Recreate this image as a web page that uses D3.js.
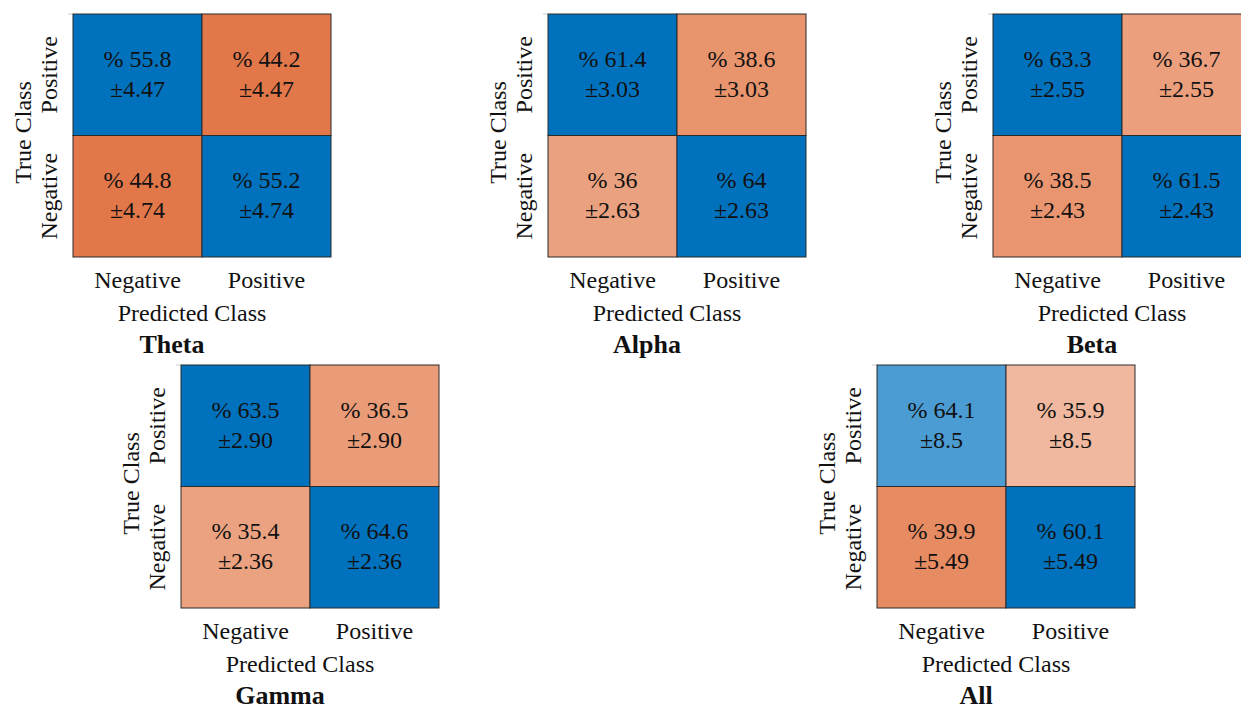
<!DOCTYPE html>
<html>
<head>
<meta charset="utf-8">
<script src="https://cdn.jsdelivr.net/npm/d3@7"></script>
<style>
  html, body { margin: 0; padding: 0; background: #fff; }
  svg { display: block; }
  text { font-family: "Liberation Serif", "Times New Roman", serif; fill: #111; }
</style>
</head>
<body>
<svg id="chart" width="1241" height="709"></svg>
<script>
// Class labels (columns = predicted, rows = true)
const predictedClasses = ["Negative", "Positive"];
const trueClasses = ["Positive", "Negative"];

// Cell order: [true Pos / pred Neg, true Pos / pred Pos, true Neg / pred Neg, true Neg / pred Pos]
const thetaPct = [55.8, 44.2, 44.8, 55.2];
const thetaStd = ["4.47", "4.47", "4.74", "4.74"];
const alphaPct = [61.4, 38.6, 36, 64];
const alphaStd = ["3.03", "3.03", "2.63", "2.63"];
const betaPct = [63.3, 36.7, 38.5, 61.5];
const betaStd = ["2.55", "2.55", "2.43", "2.43"];
const gammaPct = [63.5, 36.5, 35.4, 64.6];
const gammaStd = ["2.90", "2.90", "2.36", "2.36"];
const allPct = [64.1, 35.9, 39.9, 60.1];
const allStd = ["8.5", "8.5", "5.49", "5.49"];

const bandNames = ["Theta", "Alpha", "Beta", "Gamma", "All"];

// Cell shading per panel
const thetaFill = ["#0072bd", "#e2784a", "#e2784a", "#0072bd"];
const alphaFill = ["#0072bd", "#e8946c", "#eaa17f", "#0072bd"];
const betaFill = ["#0072bd", "#eb9f7c", "#e99570", "#0072bd"];
const gammaFill = ["#0072bd", "#ea9c78", "#eba280", "#0072bd"];
const allFill = ["#4b9cd3", "#f0b89e", "#e68b62", "#0072bd"];

const panelData = [
  { pct: thetaPct, std: thetaStd, fill: thetaFill },
  { pct: alphaPct, std: alphaStd, fill: alphaFill },
  { pct: betaPct, std: betaStd, fill: betaFill },
  { pct: gammaPct, std: gammaStd, fill: gammaFill },
  { pct: allPct, std: allStd, fill: allFill }
];

// Panel placement (matrix top-left corners)
const origins = [[73, 14], [548, 14], [993, 14], [181, 365], [877, 365]];
const matW = 258, matH = 243;

const svg = d3.select("#chart");

bandNames.forEach((name, i) => {
  const [ox, oy] = origins[i];
  const d = panelData[i];
  const g = svg.append("g").attr("transform", `translate(${ox},${oy})`);

  const x = d3.scaleBand().domain(predictedClasses).range([0, matW]);
  const y = d3.scaleBand().domain(trueClasses).range([0, matH]);

  const cells = [];
  trueClasses.forEach((t, r) => predictedClasses.forEach((p, c) => {
    const k = r * 2 + c;
    cells.push({ t, p, pct: d.pct[k], std: d.std[k], fill: d.fill[k] });
  }));

  // faint axis stub at the top-left corner
  g.append("line").attr("x1", -5).attr("x2", 0).attr("y1", 0).attr("y2", 0)
    .attr("stroke", "#ccc").attr("stroke-width", 1);

  const cell = g.selectAll("g.cell").data(cells).join("g").attr("class", "cell");
  cell.append("rect")
    .attr("x", c => x(c.p)).attr("y", c => y(c.t))
    .attr("width", x.bandwidth()).attr("height", y.bandwidth())
    .attr("fill", c => c.fill)
    .attr("stroke", "#2b2b2b").attr("stroke-width", 1);

  cell.append("text")
    .attr("x", c => x(c.p) + x.bandwidth() / 2)
    .attr("y", c => y(c.t) + y.bandwidth() / 2 - 8)
    .attr("text-anchor", "middle")
    .attr("font-size", 24)
    .text(c => "% " + c.pct);
  cell.append("text")
    .attr("x", c => x(c.p) + x.bandwidth() / 2)
    .attr("y", c => y(c.t) + y.bandwidth() / 2 + 22)
    .attr("text-anchor", "middle")
    .attr("font-size", 24)
    .text(c => "\u00b1" + c.std);

  // x axis tick labels
  const xAxis = d3.axisBottom(x).tickSize(0).tickPadding(0);
  const xa = g.append("g").attr("transform", `translate(0,${matH})`).call(xAxis);
  xa.select(".domain").remove();
  xa.selectAll("text")
    .attr("font-size", 24).attr("fill", "#111")
    .attr("font-family", "Liberation Serif, serif")
    .attr("dy", null).attr("y", 31);

  // y axis tick labels (rotated)
  y.domain().forEach(t => {
    g.append("text")
      .attr("transform", `translate(-16,${y(t) + y.bandwidth() / 2}) rotate(-90)`)
      .attr("text-anchor", "middle")
      .attr("font-size", 24)
      .text(t);
  });

  // axis titles
  g.append("text")
    .attr("x", matW / 2 - 10).attr("y", matH + 64)
    .attr("text-anchor", "middle").attr("font-size", 24)
    .text("Predicted Class");
  g.append("text")
    .attr("transform", `translate(-42,${matH / 2 - 3}) rotate(-90)`)
    .attr("text-anchor", "middle").attr("font-size", 24)
    .text("True Class");

  // panel caption
  g.append("text")
    .attr("x", matW / 2 - 30).attr("y", matH + 96)
    .attr("text-anchor", "middle").attr("font-size", 26).attr("font-weight", "bold")
    .text(name);
});
</script>
</body>
</html>
